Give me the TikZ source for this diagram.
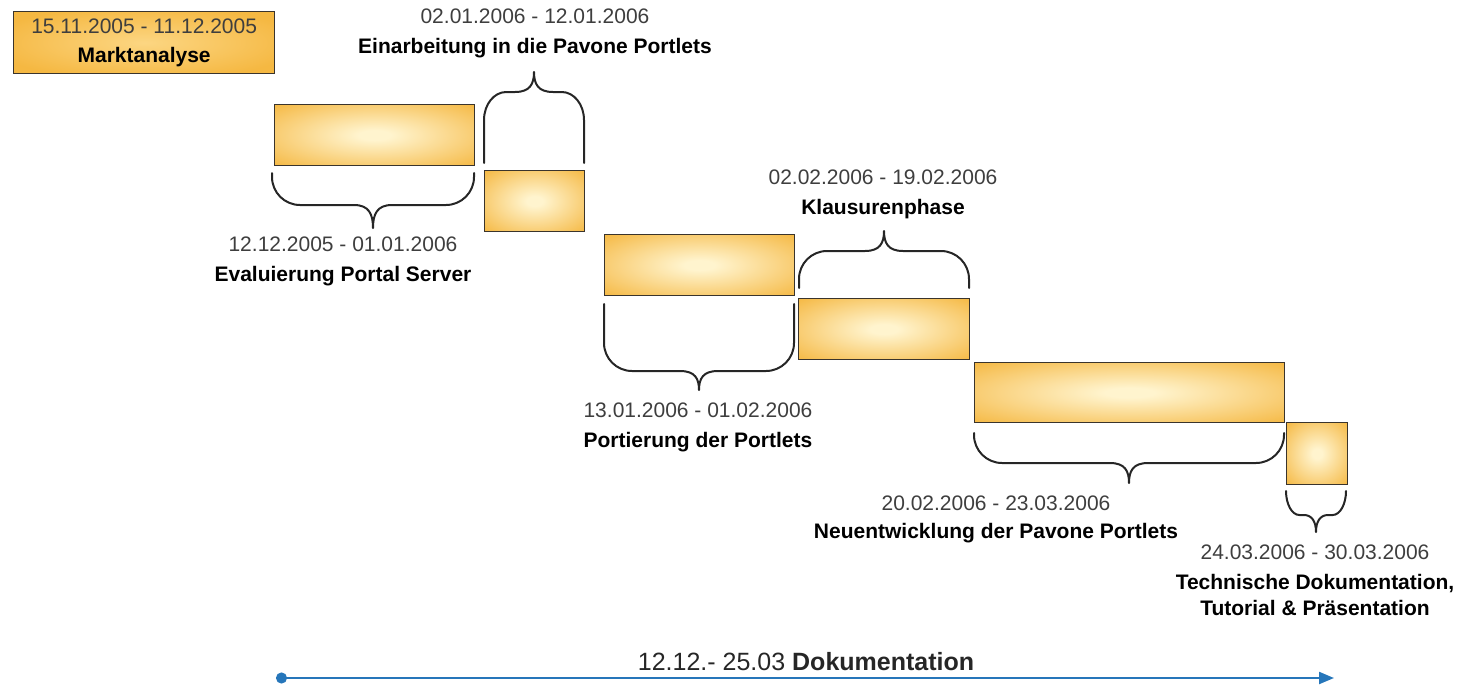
\documentclass[tikz,border=0pt]{standalone}
\usepackage{fontspec}
\setmainfont{Liberation Sans}
\usetikzlibrary{arrows.meta}

\definecolor{balkenorange}{RGB}{245,184,66}
\definecolor{balkenhell}{RGB}{255,244,206}
\definecolor{marktmitte}{RGB}{252,214,130}
\definecolor{rahmengrau}{RGB}{58,52,44}
\definecolor{datumgrau}{RGB}{62,62,62}
\definecolor{pfeilblau}{RGB}{38,118,186}

\pgfdeclareradialshading{balkenglanz}{\pgfpoint{0bp}{0bp}}{%
  color(0bp)=(balkenhell); color(4bp)=(balkenhell); color(36bp)=(balkenorange); color(60bp)=(balkenorange)}
\pgfdeclareradialshading{marktglanz}{\pgfpoint{0bp}{0bp}}{%
  color(0bp)=(marktmitte); color(30bp)=(balkenorange); color(60bp)=(balkenorange)}

\tikzset{
  balken/.style={draw=rahmengrau, line width=1.3pt, shading=balkenglanz, inner sep=0pt, anchor=north west},
  klammerlinie/.style={line width=2pt, black!85, line cap=round, line join=round},
  phasentext/.style={align=center, text=datumgrau, font=\fontsize{21}{30}\selectfont},
  dokupfeil/.style={pfeilblau, line width=2.2pt, {Circle[length=11pt]}-{Triangle[length=15pt,width=12pt]}}
}

\newcommand{\titel}[1]{\textcolor{black}{\bfseries #1}}

% x1, x2, y am Balken, y der Querlinie, y der Spitze
\newcommand{\zeitklammer}[5]{%
  \pgfmathsetmacro{\kxm}{(#1+#2)/2}
  \pgfmathsetmacro{\kr}{min(28,(#2-#1)/4.5)}
  \pgfmathsetmacro{\ks}{min(19,(#2-#1)/5)}
  \pgfmathsetmacro{\kya}{#4-min(28,abs(#4-#3))*sign(#4-#3)}
  \pgfmathsetmacro{\kyc}{\kya+0.552*(#4-\kya)}
  \draw[klammerlinie] (#1,#3) -- (#1,\kya) .. controls (#1,\kyc) and (#1+0.448*\kr,#4) .. (#1+\kr,#4) -- (\kxm-\ks,#4)
    .. controls (\kxm-4,#4) and (\kxm,#5*0.4+#4*0.6) .. (\kxm,#5)
    .. controls (\kxm,#5*0.4+#4*0.6) and (\kxm+4,#4) .. (\kxm+\ks,#4) -- (#2-\kr,#4)
    .. controls (#2-0.448*\kr,#4) and (#2,\kyc) .. (#2,\kya) -- (#2,#3);
}

\begin{document}
\begin{tikzpicture}[x=1pt, y=-1pt]
  \useasboundingbox (0,0) rectangle (1465,691);

  % Marktanalyse
  \node[balken, shading=marktglanz, minimum width=261pt, minimum height=62pt, phasentext] (markt) at (13,11)
    {15.11.2005 - 11.12.2005\\[-1pt]\titel{Marktanalyse}};

  % Balken
  \node[balken, minimum width=200pt, minimum height=61pt] (evaluierung) at (274,104) {};
  \node[balken, minimum width=100pt, minimum height=61pt] (einarbeitung) at (484,170) {};
  \node[balken, minimum width=190pt, minimum height=61pt] (portierung) at (604,234) {};
  \node[balken, minimum width=171pt, minimum height=61pt] (klausur) at (798,298) {};
  \node[balken, minimum width=310pt, minimum height=60pt] (neuentwicklung) at (974,362) {};
  \node[balken, minimum width=61pt, minimum height=62pt] (technik) at (1286,422) {};

  % Klammern
  \zeitklammer{272}{474}{173}{205}{228}
  \zeitklammer{484}{584}{163}{92}{72}
  \zeitklammer{604}{794}{304}{371}{390}
  \zeitklammer{799}{969}{288}{251}{231}
  \zeitklammer{974}{1284}{433}{463}{483}
  \zeitklammer{1286}{1346}{491}{515}{532}

  % Beschriftungen
  \node[phasentext] (einarbeitungtext) at (535,33) {02.01.2006 - 12.01.2006\\\titel{Einarbeitung in die Pavone Portlets}};
  \node[phasentext] (evaluierungtext) at (343,261) {12.12.2005 - 01.01.2006\\\titel{Evaluierung Portal Server}};
  \node[phasentext] (klausurtext) at (883,194) {02.02.2006 - 19.02.2006\\\titel{Klausurenphase}};
  \node[phasentext] (portierungtext) at (698,427) {13.01.2006 - 01.02.2006\\\titel{Portierung der Portlets}};
  \node[phasentext] (neuentwicklungtext) at (996,519) {20.02.2006 - 23.03.2006\\[-2pt]\titel{Neuentwicklung der Pavone Portlets}};
  \node[phasentext] (techniktext) at (1315,580) {24.03.2006 - 30.03.2006\\\titel{Technische Dokumentation,}\\[-4pt]\titel{Tutorial \& Präsentation}};

  % Dokumentation
  \coordinate (dokustart) at (276,678);
  \coordinate (dokuende) at (1334,678);
  \draw[dokupfeil] (dokustart) -- (dokuende);
  \node[font=\fontsize{25}{30}\selectfont, text=black!85] (dokutext) at (806,662) {12.12.- 25.03 \textbf{Dokumentation}};
\end{tikzpicture}
\end{document}
